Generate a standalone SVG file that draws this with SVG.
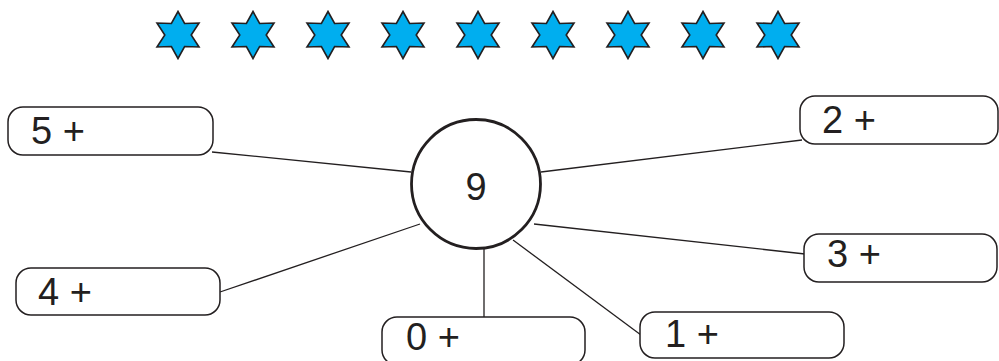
<svg xmlns="http://www.w3.org/2000/svg" width="999" height="361" viewBox="0 0 999 361">
<defs>
<style>
.box{fill:#fff;stroke:#231f20;stroke-width:1.5}
.lbl{font-family:"Liberation Sans",Arial,sans-serif;font-size:38px;fill:#231f20}
.con{stroke:#231f20;stroke-width:1.3;fill:none}
.star{fill:#00aeef;stroke:#231f20;stroke-width:1.6;stroke-linejoin:miter}
</style>
<polygon id="st" class="star" points="0,-23.5 6.6,-11.5 21,-12 13.2,0 21,12 6.6,11.5 0,23.5 -6.6,11.5 -21,12 -13.2,0 -21,-12 -6.6,-11.5"/>
</defs>
<rect width="999" height="361" fill="#fff"/>
<g id="stars">
<use href="#st" x="178" y="35"/>
<use href="#st" x="253" y="35"/>
<use href="#st" x="328" y="35"/>
<use href="#st" x="403" y="35"/>
<use href="#st" x="478" y="35"/>
<use href="#st" x="553" y="35"/>
<use href="#st" x="628" y="35"/>
<use href="#st" x="703" y="35"/>
<use href="#st" x="778" y="35"/>
</g>
<g id="connectors">
<line class="con" x1="212" y1="152" x2="411" y2="172"/>
<line class="con" x1="541" y1="172" x2="802" y2="140"/>
<line class="con" x1="534" y1="224" x2="805" y2="254"/>
<line class="con" x1="513" y1="240" x2="641" y2="335"/>
<line class="con" x1="484" y1="248" x2="484" y2="317"/>
<line class="con" x1="220" y1="292" x2="420" y2="224"/>
</g>
<g id="center">
<circle cx="476" cy="184" r="64.5" fill="#fff" stroke="#231f20" stroke-width="2.8"/>
<text class="lbl" x="476" y="200" text-anchor="middle">9</text>
</g>
<g id="n5">
<rect class="box" x="8" y="107" width="205" height="48" rx="15"/>
<text class="lbl" x="31" y="144">5 +</text>
</g>
<g id="n2">
<rect class="box" x="800" y="96" width="198" height="48" rx="15"/>
<text class="lbl" x="822" y="133">2 +</text>
</g>
<g id="n3">
<rect class="box" x="804" y="234" width="193" height="48" rx="15"/>
<text class="lbl" x="827" y="267">3 +</text>
</g>
<g id="n4">
<rect class="box" x="16" y="268" width="204" height="47" rx="15"/>
<text class="lbl" x="38" y="305">4 +</text>
</g>
<g id="n1">
<rect class="box" x="640" y="312" width="204" height="46" rx="15"/>
<text class="lbl" x="665" y="347">1 +</text>
</g>
<g id="n0">
<rect class="box" x="382" y="317" width="203" height="48" rx="15"/>
<text class="lbl" x="406" y="350">0 +</text>
</g>
</svg>
